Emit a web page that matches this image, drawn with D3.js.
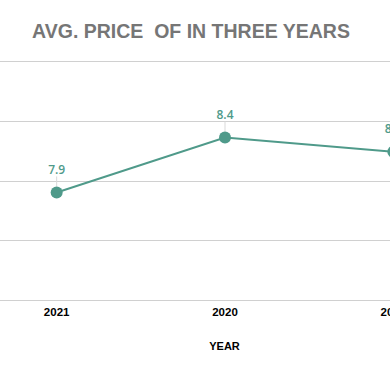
<!DOCTYPE html>
<html>
<head>
<meta charset="utf-8">
<script src="https://cdn.jsdelivr.net/npm/d3@7"></script>
<style>
  body { margin: 0; background: #fff; }
  svg { display: block; }
</style>
</head>
<body>
<script>
/*****************************************************/
// Data

var years = ['2021', '2020', '2019'];
var prices = [7.9, 8.36, 8.24];
var yTicks = [7, 7.5, 8, 8.5, 9];

/*****************************************************/
// Setup

var width = 390, height = 371;
var svg = d3.select('body').append('svg')
  .attr('width', width)
  .attr('height', height);

// the chart is cut off on both sides, so the plot runs past the svg
var x = d3.scaleBand().domain(years).range([-27.5, 477.5]);
var y = d3.scaleLinear().domain([7, 9]).range([300, 61]);

/*****************************************************/
// Title

svg.append('text')
  .attr('x', 191).attr('y', 38)
  .attr('text-anchor', 'middle')
  .style('font-family', 'Liberation Sans, Arial, sans-serif')
  .style('font-weight', 'bold')
  .style('font-size', '19.5px')
  .style('fill', '#767676')
  .text('AVG. PRICE \u00a0OF IN THREE YEARS');

/*****************************************************/
// Grid

svg.append('g').selectAll('line')
  .data(yTicks)
  .enter().append('line')
  .attr('x1', x.range()[0]).attr('x2', x.range()[1])
  .attr('y1', function(d){ return Math.round(y(d)) + 0.5; })
  .attr('y2', function(d){ return Math.round(y(d)) + 0.5; })
  .style('stroke', '#d0d0d0')
  .style('stroke-width', 1);

/*****************************************************/
// X axis labels

var xAxis = svg.append('g')
  .attr('transform', 'translate(0,' + 300 + ')')
  .call(d3.axisBottom(x).tickSize(0).tickPadding(8));
xAxis.select('.domain').remove();
xAxis.selectAll('text')
  .style('font-family', 'Liberation Sans, Arial, sans-serif')
  .style('font-weight', 'bold')
  .style('font-size', '11.5px')
  .style('fill', '#000');

svg.append('text')
  .attr('x', 224.5).attr('y', 349.5)
  .attr('text-anchor', 'middle')
  .style('font-family', 'Liberation Sans, Arial, sans-serif')
  .style('font-weight', 'bold')
  .style('font-size', '11px')
  .style('fill', '#000')
  .text('YEAR');

/*****************************************************/
// Line + markers

var color = '#4f9a8a';
var cx = function(d, i){ return x(years[i]) + x.bandwidth() / 2; };

var line = d3.line()
  .x(function(d, i){ return cx(d, i); })
  .y(function(d){ return y(d); });

svg.append('path')
  .datum(prices)
  .attr('d', line)
  .style('fill', 'none')
  .style('stroke', color)
  .style('stroke-width', 2);

// leader lines from labels to points
svg.append('g').selectAll('line')
  .data(prices)
  .enter().append('line')
  .attr('x1', cx).attr('x2', cx)
  .attr('y1', function(d){ return y(d) - 16; })
  .attr('y2', function(d){ return y(d) - 6; })
  .style('stroke', '#d9d9d9')
  .style('stroke-width', 1);

svg.append('g').selectAll('circle')
  .data(prices)
  .enter().append('circle')
  .attr('cx', cx)
  .attr('cy', function(d){ return y(d); })
  .attr('r', 6)
  .style('fill', color);

svg.append('g').selectAll('text')
  .data(prices)
  .enter().append('text')
  .attr('x', cx)
  .attr('y', function(d){ return y(d) - 18.5; })
  .attr('text-anchor', 'middle')
  .style('font-family', 'Open Sans, sans-serif')
  .style('font-weight', '600')
  .style('font-size', '12px')
  .style('fill', color)
  .text(function(d){ return d3.format('.1f')(d); });
</script>
</body>
</html>
